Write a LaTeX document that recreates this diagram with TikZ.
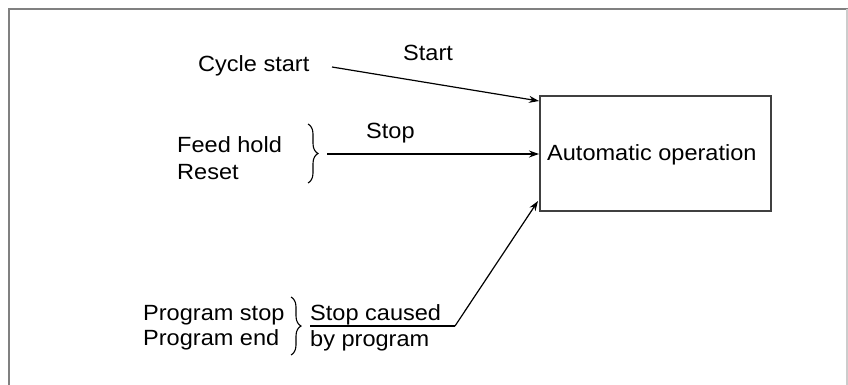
\documentclass[tikz,border=0pt]{standalone}
\usepackage{fontspec}
\setmainfont[FakeStretch=1.07]{Liberation Sans}
\usetikzlibrary{arrows.meta,decorations.pathreplacing}
\begin{document}
\begin{tikzpicture}[x=1pt,y=-1pt,
  lbl/.style={anchor=base west,inner sep=0pt,font=\fontsize{22}{26}\selectfont},
  conn/.style={line width=1.2pt,-{Stealth[length=10pt,width=7pt]}},
  plain/.style={line width=1.2pt},
  brc/.style={line width=1.1pt,decorate,decoration={brace,amplitude=10pt}},
  mainbox/.style={draw=black!75,line width=2pt,minimum width=231pt,minimum height=115pt,inner sep=0pt}]
\useasboundingbox (0,0) rectangle (848,385);
% frame
\draw[line width=2pt,black!50] (9,385) -- (9,9) -- (848,9);
\draw[line width=1.5pt,black!20] (847,9) -- (847,385);
% main box
\node[mainbox] (auto) at (655.5,153.5) {};
\node[lbl] (autotxt) at (547,160) {Automatic operation};
% labels
\node[lbl] (cyc) at (198,72) {Cycle start};
\node[lbl] (start) at (403,61) {Start};
\node[lbl] (feed) at (177,152) {Feed hold};
\node[lbl] (reset) at (177,179) {Reset};
\node[lbl] (stop) at (366,139) {Stop};
\node[lbl] (pstop) at (143,320) {Program stop};
\node[lbl] (pend) at (143,345) {Program end};
\node[lbl] (caused) at (310,320) {Stop caused};
\node[lbl] (byprog) at (310,346) {by program};
% braces
\draw[brc] (308,124) -- (308,183);
\draw[brc] (291,297) -- (291,355);
% connectors
\coordinate (c1) at (332,67);
\coordinate (e1) at (539,101);
\coordinate (c2) at (327,154);
\coordinate (e2) at (539,154);
\coordinate (u1) at (310,326);
\coordinate (u2) at (455,326);
\coordinate (e3) at (538,201);
\draw[conn] (c1) -- (e1);
\draw[conn] (c2) -- (e2);
\draw[plain] (u1) -- (u2);
\draw[conn] (u2) -- (e3);
\end{tikzpicture}
\end{document}
